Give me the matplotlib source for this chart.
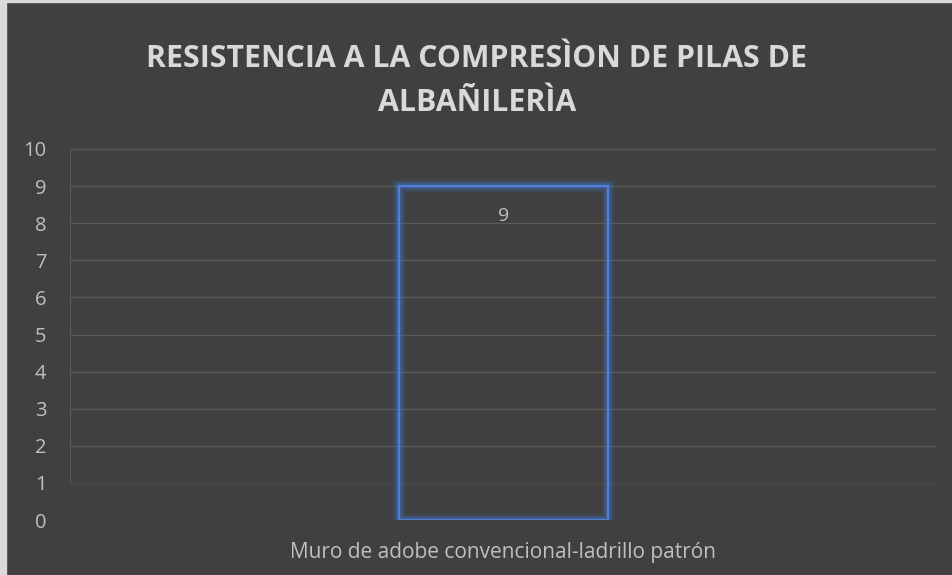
import matplotlib.pyplot as plt
from matplotlib.patches import Rectangle

categories = ['Muro de adobe convencional-ladrillo patrón']
values = [9]
title = 'RESISTENCIA A LA COMPRESÌON DE PILAS DE\nALBAÑILERÌA'

bg = '#404040'
txt = '#bfbfbf'

plt.rcParams['font.family'] = ['Open Sans', 'DejaVu Sans']

fig = plt.figure(figsize=(9.53, 5.75), dpi=100, facecolor=bg)
# light frame on the left/top edge of the screenshot
fig.patches.append(Rectangle((0, 0), 6/953, 1, transform=fig.transFigure, color='#d9d9d9', zorder=0))
fig.patches.append(Rectangle((0, 1 - 2/575), 1, 2/575, transform=fig.transFigure, color='#d9d9d9', zorder=0))

ax = fig.add_axes([70/953, 1 - 520/575, 867/953, 371/575])
ax.set_facecolor(bg)

x = range(len(categories))
# glow around the bar
for lw, a in [(10, 0.08), (8, 0.12), (6, 0.18), (4, 0.3)]:
    ax.bar(x, values, width=0.241, facecolor='none', edgecolor='#4472c4', linewidth=lw, alpha=a, zorder=3)
ax.bar(x, values, width=0.241, facecolor='none', edgecolor='#4f7fd6', linewidth=1.6, zorder=4)

for i, v in enumerate(values):
    ax.text(i, v - 0.55, str(v), ha='center', va='top', color=txt, fontsize=14)

ax.set_xlim(-0.5, 0.5)
ax.set_ylim(0, 10)
ax.set_yticks(range(0, 11))
ax.set_xticks(list(x))
ax.set_xticklabels(categories, fontsize=15)
ax.tick_params(axis='both', length=0, colors=txt)
ax.tick_params(axis='y', pad=17, labelsize=14.5)
ax.tick_params(axis='x', pad=16)

ax.grid(axis='y', color='#595959', lw=1)
ax.set_axisbelow(True)
gl = ax.get_ygridlines()
gl[0].set_visible(False)
gl[1].set_alpha(0.35)
for s in ['top', 'right', 'bottom']:
    ax.spines[s].set_visible(False)
ax.spines['left'].set_color('#595959')
ax.spines['left'].set_bounds(1, 10)

fig.text(477/953, 1 - 81/575, title, ha='center', va='center', color='#d9d9d9',
         fontsize=21.8, fontweight='bold', linespacing=1.6)

fig.savefig('out.png', dpi=100, facecolor=bg)
